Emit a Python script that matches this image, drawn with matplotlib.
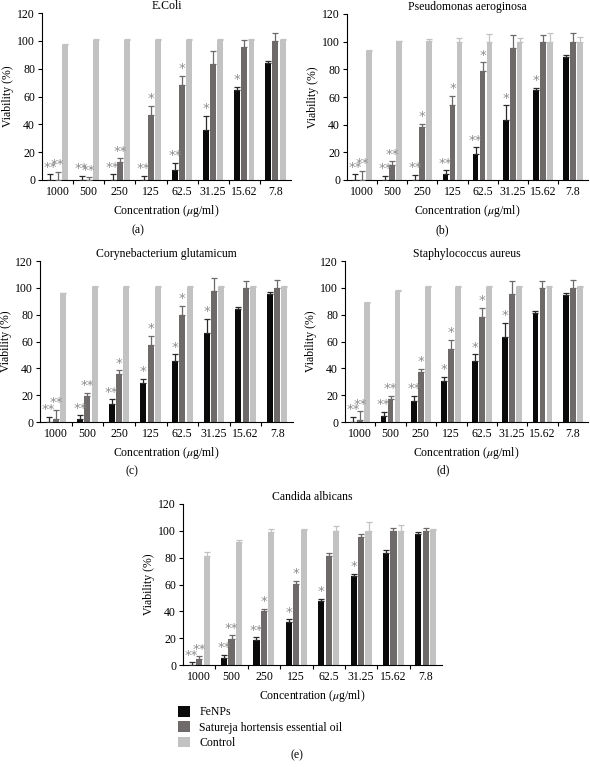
import matplotlib
matplotlib.use("Agg")
import matplotlib.pyplot as plt
from matplotlib.patches import Patch
import numpy as np

plt.rcParams['font.family'] = ['Liberation Serif', 'DejaVu Serif']
plt.rcParams['mathtext.fontset'] = 'stix'

concentrations = ['1000', '500', '250', '125', '62.5', '31.25', '15.62', '7.8']
series_names = ['FeNPs', 'Satureja hortensis essential oil', 'Control']
colors = ['#0a0a0a', '#6e6a6a', '#c2c2c2']
star_color = '#8c8c8c'

# Panel (a) E.Coli
a_title = 'E.Coli'
a_fe = [0, 0, 0, 0, 7.5, 36, 65, 84]
a_fe_err = [4, 3, 4, 3, 5, 10, 2, 1.5]
a_oil = [0, 0, 13, 47, 68.5, 83, 95.5, 100]
a_oil_err = [6, 2, 2.5, 6.5, 6.5, 9.5, 5, 5.5]
a_ctl = [97, 100.5, 100.5, 100.5, 100.5, 100.5, 100.5, 100.5]
a_ctl_err = [0.5, 0.5, 0.5, 0.5, 0.5, 0.5, 0.5, 0.5]
a_fe_sig = ['**', '**', '**', '**', '**', '*', '*', '']
a_oil_sig = ['**', '**', '**', '*', '*', '', '', '']

# Panel (b) Pseudomonas aeroginosa
b_title = 'Pseudomonas aeroginosa'
b_fe = [0, 0, 0, 4.5, 18.5, 43.5, 65, 89]
b_fe_err = [4, 3, 3.5, 2.5, 5, 10.5, 1.5, 1.5]
b_oil = [0, 11, 38.5, 54.5, 78.5, 95.5, 100, 100]
b_oil_err = [6.5, 2.5, 2, 6.5, 6.5, 9.5, 5, 6]
b_ctl = [93.5, 100.5, 100.5, 100, 100, 100, 100, 100]
b_ctl_err = [0.3, 0.3, 1.5, 3, 5.5, 2.5, 6.5, 3.5]
b_fe_sig = ['**', '**', '**', '**', '**', '*', '*', '']
b_oil_sig = ['**', '**', '*', '*', '*', '', '', '']

# Panel (c) Corynebacterium glutamicum
c_title = 'Corynebacterium glutamicum'
c_fe = [0, 2, 13.5, 29, 45.5, 66.5, 84.5, 95.5]
c_fe_err = [4, 3, 3.5, 3, 5, 10.5, 1.5, 1.5]
c_oil = [2.5, 19.5, 36, 57.5, 80, 97.5, 100, 100]
c_oil_err = [6.5, 2, 2.5, 6.5, 6.5, 9.5, 5, 6]
c_ctl = [96, 100.5, 100.5, 100.5, 100.5, 100.5, 100.5, 100.5]
c_ctl_err = [0.5, 0.5, 0.5, 0.5, 0.5, 0.5, 0.5, 0.5]
c_fe_sig = ['**', '**', '**', '*', '*', '*', '', '']
c_oil_sig = ['**', '**', '*', '*', '*', '', '', '']

# Panel (d) Staphylococcus aureus
d_title = 'Staphylococcus aureus'
d_fe = [0, 4.5, 16, 30.5, 45.5, 63.5, 81, 94.5]
d_fe_err = [4, 3, 3.5, 3, 5, 10.5, 1.5, 1.5]
d_oil = [1.5, 17.5, 37, 54.5, 78.5, 95.5, 100, 100]
d_oil_err = [6.5, 2, 2.5, 6.5, 6.5, 9.5, 5, 6]
d_ctl = [89, 98, 100.5, 100.5, 100.5, 100.5, 100.5, 100.5]
d_ctl_err = [0.5, 0.3, 0.5, 0.5, 0.5, 0.5, 0.5, 0.5]
d_fe_sig = ['**', '**', '**', '*', '*', '*', '', '']
d_oil_sig = ['**', '**', '*', '*', '*', '', '', '']

# Panel (e) Candida albicans
e_title = 'Candida albicans'
e_fe = [0, 5.5, 18.5, 32, 47.5, 66, 83.5, 97.5]
e_fe_err = [2, 2, 2, 2, 2, 2, 2, 1.5]
e_oil = [4.5, 19.5, 40, 60.5, 81.5, 95.5, 100, 100]
e_oil_err = [2, 2.5, 2, 2, 2, 2, 2, 2]
e_ctl = [81.5, 91.5, 99.5, 100.5, 100, 100, 100, 100.5]
e_ctl_err = [3, 1.5, 2, 0.5, 3.5, 6.5, 4, 0.5]
e_fe_sig = ['**', '**', '**', '*', '*', '*', '', '']
e_oil_sig = ['**', '**', '*', '*', '', '', '', '']

panel_labels = ['(a)', '(b)', '(c)', '(d)', '(e)']

W, H = 590, 767
fig = plt.figure(figsize=(W / 100, H / 100), dpi=100)


def px_axes(left, top, right, bottom):
    return fig.add_axes([left / W, 1 - bottom / H, (right - left) / W, (bottom - top) / H])


def draw_panel(ax, title, fe, fe_err, oil, oil_err, ctl, ctl_err, fe_sig, oil_sig):
    x = np.arange(len(concentrations))
    off = 0.23
    bw = 0.19
    vals = [fe, oil, ctl]
    errs = [fe_err, oil_err, ctl_err]
    for k in range(3):
        xs = x + (k - 1) * off
        v = np.array(vals[k], dtype=float)
        e = np.array(errs[k], dtype=float)
        ax.bar(xs, v, width=bw, color=colors[k], zorder=2)
        ecol = colors[k] if k != 0 else '#2a2a2a'
        ax.errorbar(xs, v, yerr=[np.zeros_like(e), e], fmt='none', ecolor=ecol,
                    elinewidth=0.9, capsize=2.2, capthick=0.9, zorder=3)
    for k, sig in enumerate([fe_sig, oil_sig]):
        for i, s in enumerate(sig):
            if s:
                top = vals[k][i] + errs[k][i]
                ax.text(x[i] + (k - 1) * off, top + 0.5, s, ha='center', va='bottom',
                        fontsize=9.5, color=star_color, family='DejaVu Sans', zorder=4)
    ax.set_xlim(-0.5, 7.5)
    ax.set_ylim(0, 120)
    ax.set_yticks(np.arange(0, 121, 20))
    ax.set_xticks(x)
    ax.set_xticklabels(concentrations)
    ax.set_xticks(np.arange(0.5, 7.5, 1), minor=True)
    ax.tick_params(axis='x', which='major', length=0, pad=4, labelsize=8.5)
    ax.tick_params(axis='x', which='minor', length=3, width=0.8, direction='out')
    ax.tick_params(axis='y', length=3, width=0.8, labelsize=8.5, pad=2)
    for sp in ['top', 'right']:
        ax.spines[sp].set_visible(False)
    for sp in ['left', 'bottom']:
        ax.spines[sp].set_linewidth(0.8)
    ax.set_xlabel(r'Concentration ($\mu$g/ml)', fontsize=8.5, labelpad=4)
    ax.set_ylabel('Viability (%)', fontsize=8.5, labelpad=2)
    ax.set_title(title, fontsize=8.5, pad=3)


ax_a = px_axes(42, 13, 291, 180)
draw_panel(ax_a, a_title, a_fe, a_fe_err, a_oil, a_oil_err, a_ctl, a_ctl_err, a_fe_sig, a_oil_sig)
ax_b = px_axes(347, 14, 588, 180)
draw_panel(ax_b, b_title, b_fe, b_fe_err, b_oil, b_oil_err, b_ctl, b_ctl_err, b_fe_sig, b_oil_sig)
ax_c = px_axes(40, 261, 293, 422)
draw_panel(ax_c, c_title, c_fe, c_fe_err, c_oil, c_oil_err, c_ctl, c_ctl_err, c_fe_sig, c_oil_sig)
ax_d = px_axes(345, 261, 588, 422)
draw_panel(ax_d, d_title, d_fe, d_fe_err, d_oil, d_oil_err, d_ctl, d_ctl_err, d_fe_sig, d_oil_sig)
ax_e = px_axes(183, 504, 442, 665)
draw_panel(ax_e, e_title, e_fe, e_fe_err, e_oil, e_oil_err, e_ctl, e_ctl_err, e_fe_sig, e_oil_sig)

label_pos = [(138, 230), (442, 230), (132, 471), (443, 470), (297, 755)]
for lab, (px, py) in zip(panel_labels, label_pos):
    fig.text(px / W, 1 - py / H, lab, ha='center', va='center', fontsize=8.5)

handles = [Patch(facecolor=c, edgecolor='none') for c in colors]
fig.legend(handles, series_names, loc='upper left', bbox_to_anchor=(178 / W, 1 - 706 / H),
           frameon=False, fontsize=8.5, handlelength=1.0, handleheight=1.0,
           handletextpad=0.8, labelspacing=0.25, borderaxespad=0, borderpad=0)

fig.savefig('out.png', dpi=100)
